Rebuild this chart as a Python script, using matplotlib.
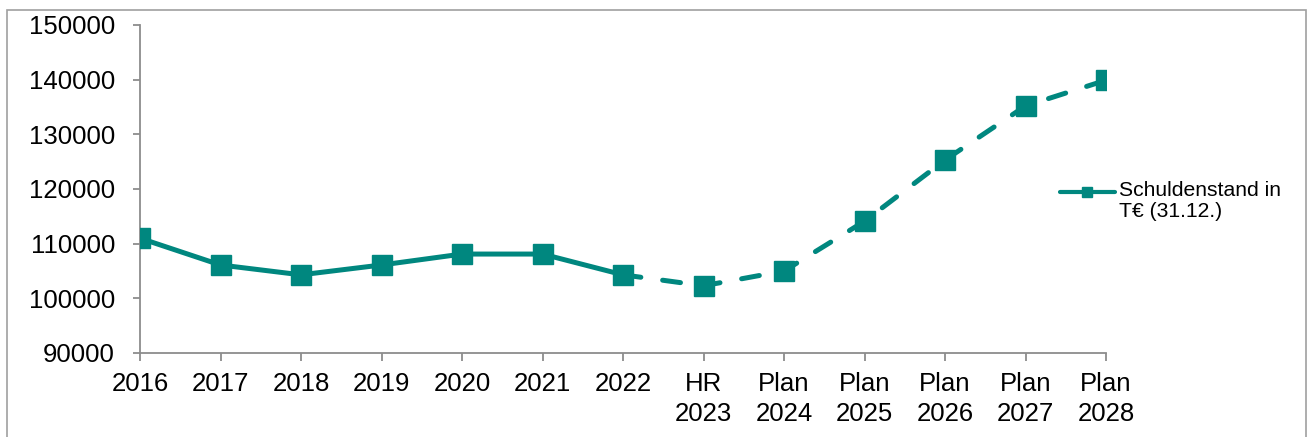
import matplotlib
matplotlib.use("Agg")
import matplotlib.pyplot as plt
from matplotlib.lines import Line2D
from matplotlib.patches import Rectangle

categories = ["2016", "2017", "2018", "2019", "2020", "2021", "2022",
              "HR\n2023", "Plan\n2024", "Plan\n2025", "Plan\n2026", "Plan\n2027", "Plan\n2028"]
values = [111000, 106100, 104300, 106100, 108100, 108100, 104300,
          102300, 105000, 114100, 125300, 135200, 139900]
series_label = "Schuldenstand in\nT€ (31.12.)"
solid_until = 6  # index of last solid point (2022)

color = "#00877F"
plt.rcParams["font.family"] = ["Liberation Sans", "DejaVu Sans"]

W, H = 1309, 437
fig = plt.figure(figsize=(W / 100, H / 100), dpi=100)
ax = fig.add_axes([140/W, 1-353/H, (1106-140)/W, (353-25)/H])

x = list(range(len(categories)))
ax.plot(x[:solid_until+1], values[:solid_until+1], color=color, lw=3.6,
        solid_capstyle="round", solid_joinstyle="round", zorder=2)
ax.plot(x[solid_until:], values[solid_until:], color=color, lw=3.6,
        linestyle=(0, (3.6, 4.4)), dash_capstyle="round", zorder=2)
ax.plot(x, values, linestyle="none", marker="s", ms=14, color=color, zorder=3)

ax.set_xlim(0, len(categories) - 1)
ax.set_ylim(90000, 150000)
ax.set_yticks(range(90000, 150001, 10000))
ax.set_yticklabels([str(v) for v in range(90000, 150001, 10000)])
ax.set_xticks(x)
ax.set_xticklabels(categories, linespacing=1.3)
for s in ["top", "right"]:
    ax.spines[s].set_visible(False)
for s in ["left", "bottom"]:
    ax.spines[s].set_color("#8c8c8c")
    ax.spines[s].set_linewidth(1.3)
ax.tick_params(axis="both", colors="#8c8c8c", labelcolor="black", labelsize=18.5,
               width=1.3)
ax.tick_params(axis="y", length=5, pad=13)
ax.tick_params(axis="x", length=6, pad=8)
ax.patch.set_alpha(0)

# legend (handle aligned with first text line, as in the reference)
ly = 1 - 192/H
fig.add_artist(Line2D([1060/W, 1115/W], [ly, ly], transform=fig.transFigure,
                      color=color, lw=3.0, solid_capstyle="round"))
fig.add_artist(Line2D([1087/W], [ly], transform=fig.transFigure, color=color,
                      marker="s", ms=7.5, linestyle="none"))
fig.text(1119/W, 1 - 181/H, series_label, fontsize=15.2, va="top", ha="left",
         linespacing=1.15)

fig.patches.append(Rectangle((7/W, -0.1), (1306-7)/W, 1.1 - 10/H,
                             transform=fig.transFigure, fill=False,
                             edgecolor="#a0a0a0", lw=1.2))
fig.savefig("out.png", dpi=100)
